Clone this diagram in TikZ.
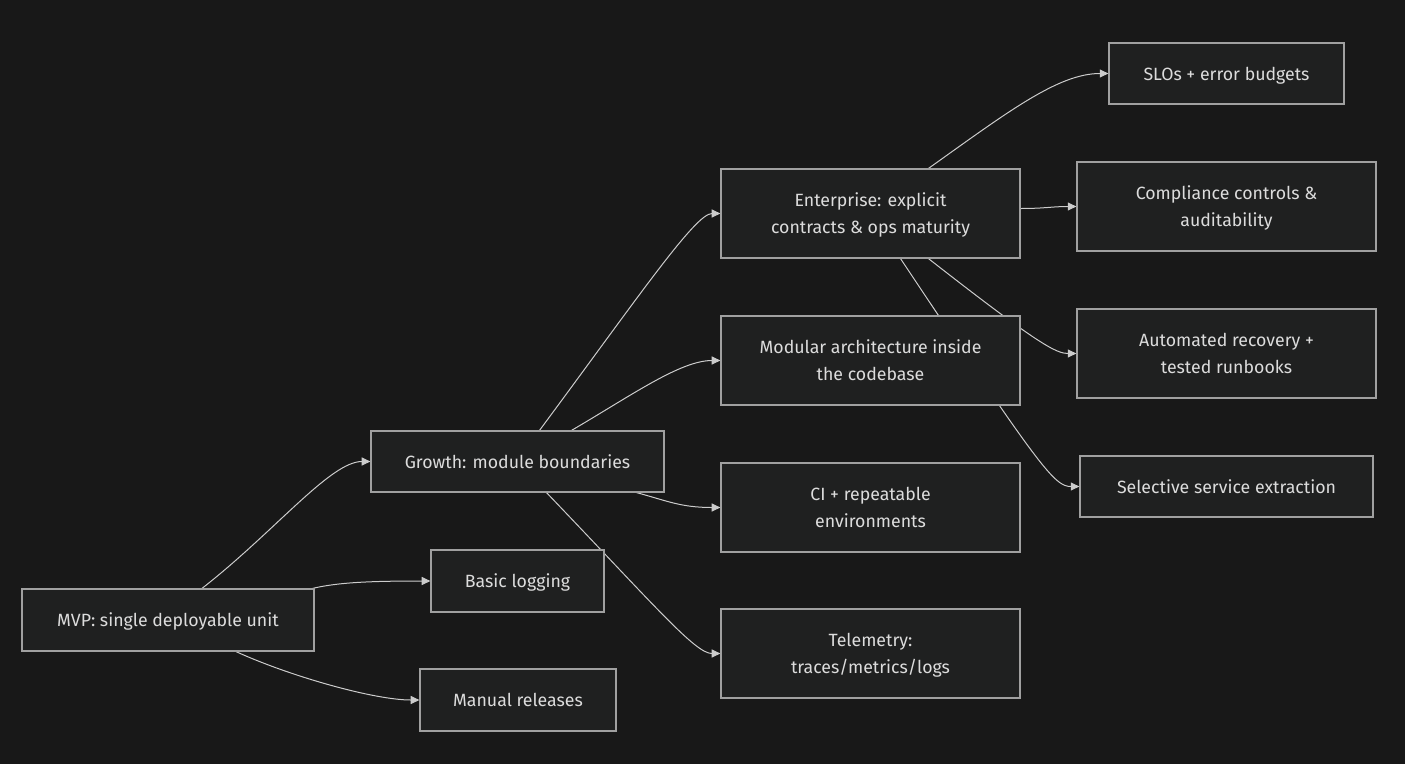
\documentclass[tikz,border=0pt]{standalone}
\usepackage{fontspec}
\setmainfont{Fira Sans}
\usetikzlibrary{arrows.meta, calc, backgrounds}
\definecolor{gr-bg}{HTML}{181818}
\definecolor{gr-fill}{HTML}{1F2020}
\definecolor{gr-border}{HTML}{A0A0A0}
\definecolor{gr-line}{HTML}{CCCCCC}
\definecolor{gr-text}{HTML}{DCDCDC}
\tikzset{
  gr@box/.style={
    draw=gr-border, fill=gr-fill, line width=0.9pt,
    text=gr-text, align=center, inner sep=0pt, text depth=0pt,
    font=\fontsize{13.3}{20.25}\selectfont
  },
  gr@wide/.style={gr@box, minimum width=224.25pt, minimum height=66.75pt},
  gr@arr/.style={-{Triangle[length=6.5pt,width=6pt]}, gr-line, line width=0.75pt},
}

\begin{document}
\begin{tikzpicture}[x=0.75pt, y=-0.75pt]
  % stages
  \node[gr@box, minimum width=219pt, minimum height=46.5pt] (mvp) at (168,620) {MVP: single deployable unit};
  \node[gr@box, minimum width=219.75pt, minimum height=45.75pt] (growth) at (517.5,461.5) {Growth: module boundaries};
  \node[gr@box, minimum width=129.75pt, minimum height=46.5pt] (logging) at (517.5,581) {Basic logging};
  \node[gr@box, minimum width=147pt, minimum height=46.5pt] (manual) at (518,700) {Manual releases};
  \node[gr@wide] (enterprise) at (870.5,213.5) {Enterprise: explicit\\contracts \& ops maturity};
  \node[gr@wide] (modular) at (870.5,360.5) {Modular architecture inside\\the codebase};
  \node[gr@wide] (ci) at (870.5,507.5) {CI + repeatable\\environments};
  \node[gr@wide] (telemetry) at (870.5,653.5) {Telemetry:\\traces/metrics/logs};
  \node[gr@box, minimum width=176.25pt, minimum height=45.75pt] (slos) at (1226.5,73.5) {SLOs + error budgets};
  \node[gr@wide] (compliance) at (1226.5,206.5) {Compliance controls \&\\auditability};
  \node[gr@wide] (recovery) at (1226.5,353.5) {Automated recovery +\\tested runbooks};
  \node[gr@box, minimum width=219.75pt, minimum height=45.75pt] (extraction) at (1226.5,486.5) {Selective service extraction};

  \begin{scope}[on background layer]
    \fill[gr-bg] (0,0) rectangle (1405,764);
    % from the MVP
    \draw[gr@arr] ($(mvp.north)+(34,0)$) .. controls +(73,-57) and +(-40,0) .. (growth.west);
    \draw[gr@arr] ($(mvp.north east)+(-2,0)$) .. controls +(25,-6) and +(-60,0) .. (logging.west);
    \draw[gr@arr] ($(mvp.south)+(68,0)$) .. controls +(55,25) and +(-45,0) .. (manual.west);
    % from growth
    \draw[gr@arr] ($(growth.north)+(22,0)$) .. controls +(100,-135) and +(-25,0) .. (enterprise.west);
    \draw[gr@arr] ($(growth.north)+(54,0)$) .. controls +(60,-35) and +(-40,0) .. (modular.west);
    \draw[gr@arr] ($(growth.south)+(119,0)$) .. controls +(30,8) and +(-40,0) .. (ci.west);
    \draw[gr@arr] ($(growth.south)+(29,0)$) .. controls +(110,115) and +(-25,0) .. (telemetry.west);
    % from enterprise
    \draw[gr@arr] ($(enterprise.north)+(58,0)$) .. controls +(80,-57) and +(-50,0) .. (slos.west);
    \draw[gr@arr] ($(enterprise.east)+(0,-5)$) .. controls +(25,0) and +(-25,0) .. (compliance.west);
    \draw[gr@arr] ($(enterprise.south)+(58,0)$) .. controls +(110,86) and +(-20,0) .. (recovery.west);
    \draw[gr@arr] ($(enterprise.south)+(30,0)$) .. controls +(140,210) and +(-25,0) .. (extraction.west);
  \end{scope}
\end{tikzpicture}
\end{document}
